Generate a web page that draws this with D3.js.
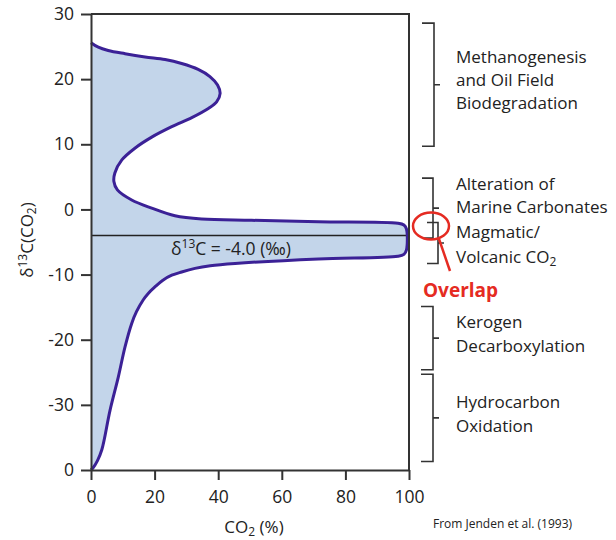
<!DOCTYPE html>
<html>
<head>
<meta charset="utf-8">
<script src="https://cdn.jsdelivr.net/npm/d3@7"></script>
<style>
  html, body { margin: 0; padding: 0; background: #fff; }
  svg { display: block; }
  text { font-family: "Open Sans", "Noto Sans", sans-serif; fill: #222; }
</style>
</head>
<body>
<svg id="chart" width="616" height="540"></svg>
<script>
// CO2 concentration (%) vs. carbon isotope composition of CO2 (per mil)
const co2Pct = [0, 2.3, 5.4, 10.7, 17.0, 23.3, 28.5, 33.7, 37.4, 39.8, 40.6, 39.5, 36.9, 31.7, 25.4, 19.1, 13.8,
  9.7, 7.5, 7.2, 8.3, 12.8, 19.1, 26.4, 34.8, 50.5, 71.5, 96.5, 98.4, 99.2, 99.2, 98.4, 96.5, 71.5, 45.3, 37.5,
  32.7, 28.5, 25.4, 22.5, 20.1, 18.0, 16.4, 14.3, 12.8, 10.7, 8.6, 6.0, 3.4, 2.0, 0.6, 0];
const d13C = [25.6, 24.9, 24.4, 23.9, 23.4, 23.0, 22.4, 21.5, 20.4, 19.1, 17.8, 16.5, 15.5, 14.1, 12.7, 11.1, 9.4,
  7.6, 5.6, 4.3, 3.0, 1.45, 0.2, -0.97, -1.47, -1.67, -1.9, -2.13, -2.4, -3.0, -6.2, -6.9, -7.2, -7.6, -8.3, -8.65,
  -9.05, -9.6, -10.1, -10.9, -11.9, -12.9, -13.9, -15.7, -17.5, -21.1, -25.7, -30.8, -36.9, -38.6, -39.7, -40];

// Axis ticks
const xTicks = [0, 20, 40, 60, 80, 100];
const yTicks = [30, 20, 10, 0, -10, -20, -30, -40];
const yTickLabels = ["30", "20", "10", "0", "-10", "-20", "-30", "0"];

// Reference line
const refValue = -4.0;

// Source ranges (per mil): [top, bottom]
const sourceNames = [
  ["Methanogenesis", "and Oil Field", "Biodegradation"],
  ["Alteration of", "Marine Carbonates"],
  ["Magmatic/", "Volcanic CO\u2082"],
  ["Kerogen", "Decarboxylation"],
  ["Hydrocarbon", "Oxidation"]
];
const sourceTop = [28.6, 4.8, -2.0, -14.9, -25.3];
const sourceBottom = [9.7, -4.4, -8.3, -24.6, -38.7];

const svg = d3.select("#chart");
const x = d3.scaleLinear().domain([0, 100]).range([91, 409]);
const y = d3.scaleLinear().domain([30, -40]).range([14, 470]);

const pts = co2Pct.map((v, i) => [v, d13C[i]]);
const line = d3.line().x(d => x(d[0])).y(d => y(d[1])).curve(d3.curveCatmullRom.alpha(0.5));

// filled envelope, closed along the vertical axis
svg.append("path")
  .attr("d", line(pts) + "Z")
  .attr("fill", "#c3d5ea")
  .attr("stroke", "none");

// reference line at the stated value
svg.append("line")
  .attr("x1", x(0)).attr("x2", x(100))
  .attr("y1", y(refValue)).attr("y2", y(refValue))
  .attr("stroke", "#222").attr("stroke-width", 1.3);

// envelope outline
svg.append("path")
  .attr("d", line(pts))
  .attr("fill", "none")
  .attr("stroke", "#3b2196")
  .attr("stroke-width", 3)
  .attr("stroke-linejoin", "round");

// frame: top and right edges
svg.append("path")
  .attr("d", `M${x(0)},${y(30)}H${x(100)}V${y(-40)}`)
  .attr("fill", "none").attr("stroke", "#333").attr("stroke-width", 2);

// axes
const yAxis = svg.append("g")
  .attr("transform", `translate(${x(0)},0)`)
  .call(d3.axisLeft(y).tickValues(yTicks).tickSize(10).tickSizeOuter(0).tickPadding(7)
    .tickFormat((d, i) => yTickLabels[i]));
const xAxis = svg.append("g")
  .attr("transform", `translate(0,${y(-40)})`)
  .call(d3.axisBottom(x).tickValues(xTicks).tickSize(10).tickSizeOuter(0).tickPadding(11)
    .tickFormat(d3.format("d")));
[yAxis, xAxis].forEach(g => {
  g.selectAll("path.domain").attr("stroke", "#333").attr("stroke-width", 2);
  g.selectAll(".tick line").attr("stroke", "#333").attr("stroke-width", 2);
  g.selectAll(".tick text").attr("font-size", 17.5).attr("fill", "#222")
    .attr("font-family", "'Open Sans', sans-serif");
});

// reference line label
const refLabel = svg.append("text")
  .attr("x", 171).attr("y", y(refValue) + 19.5)
  .attr("font-size", 17.5);
refLabel.append("tspan").text("\u03B4");
refLabel.append("tspan").attr("font-size", 12).attr("dy", -6.5).text("13");
refLabel.append("tspan").attr("dy", 6.5).text("C = -4.0 (\u2030)");

// axis titles
const xTitle = svg.append("text")
  .attr("x", 254).attr("y", 533).attr("text-anchor", "middle").attr("font-size", 17);
xTitle.append("tspan").text("CO");
xTitle.append("tspan").attr("font-size", 12).attr("dy", 3).text("2");
xTitle.append("tspan").attr("dy", -3).text(" (%)");

const yTitle = svg.append("text")
  .attr("transform", "translate(33,240) rotate(-90)")
  .attr("text-anchor", "middle").attr("font-size", 17);
yTitle.append("tspan").text("\u03B4");
yTitle.append("tspan").attr("font-size", 12).attr("dy", -6.5).text("13");
yTitle.append("tspan").attr("dy", 6.5).text("C(CO");
yTitle.append("tspan").attr("font-size", 12).attr("dy", 3).text("2");
yTitle.append("tspan").attr("dy", -3).text(")");

// source brackets
const bracketX = [422, 422, 427, 421, 421];
const bracketW = [12, 11, 11, 12, 12];
const textTop = [63, 190, 238, 328, 408];
const lineGap = [23.2, 23.2, 25, 23.5, 23.5];
sourceNames.forEach((names, i) => {
  const y0 = y(sourceTop[i]), y1 = y(sourceBottom[i]);
  const bx = bracketX[i], bw = bracketW[i];
  svg.append("path")
    .attr("d", `M${bx},${y0}H${bx + bw}V${y1}H${bx}M${bx + bw},${(y0 + y1) / 2}h6`)
    .attr("fill", "none").attr("stroke", "#333").attr("stroke-width", 1.6);
  names.forEach((t, j) => {
    const tx = svg.append("text")
      .attr("x", 456).attr("y", textTop[i] + j * lineGap[i]).attr("font-size", 17);
    if (t.endsWith("\u2082")) {
      tx.append("tspan").text(t.slice(0, -1));
      tx.append("tspan").attr("font-size", 12).attr("dy", 3).text("2");
    } else {
      tx.text(t);
    }
  });
});

// overlap annotation
svg.append("ellipse")
  .attr("cx", 431).attr("cy", 226).attr("rx", 18).attr("ry", 13.5)
  .attr("fill", "none").attr("stroke", "#e52b22").attr("stroke-width", 2.5);
svg.append("line")
  .attr("x1", 439).attr("y1", 239).attr("x2", 450).attr("y2", 271)
  .attr("stroke", "#e52b22").attr("stroke-width", 2.5);
svg.append("text")
  .attr("x", 423).attr("y", 297)
  .attr("font-size", 19).attr("font-weight", "bold")
  .attr("font-family", "'DejaVu Sans', sans-serif")
  .style("fill", "#e52b22")
  .text("Overlap");

// source note
svg.append("text")
  .attr("x", 433).attr("y", 528).attr("font-size", 12)
  .text("From Jenden et al. (1993)");
</script>
</body>
</html>
